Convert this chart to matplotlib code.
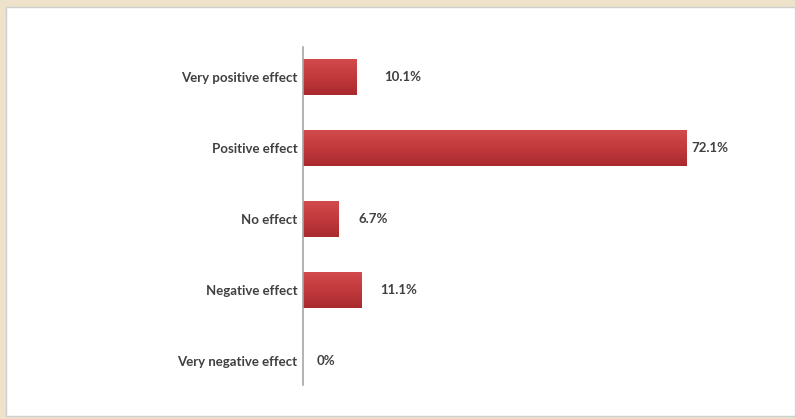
import matplotlib
matplotlib.use("Agg")
import matplotlib.pyplot as plt
import numpy as np
from matplotlib.patches import Rectangle
from matplotlib.colors import LinearSegmentedColormap

categories = ["Very positive effect", "Positive effect", "No effect",
              "Negative effect", "Very negative effect"]
values = [10.1, 72.1, 6.7, 11.1, 0.0]
value_labels = ["10.1%", "72.1%", "6.7%", "11.1%", "0%"]
# horizontal gap (points) between bar end and its label
label_gap = [20, 4, 14, 13, 10]

plt.rcParams["font.family"] = ["Lato", "DejaVu Sans"]

fig = plt.figure(figsize=(7.95, 4.19), dpi=100)
fig.patch.set_facecolor("#eee2ca")

# white card on the beige background
card = Rectangle((6 / 795, 3 / 419), 789 / 795, 409 / 419,
                 transform=fig.transFigure, facecolor="white",
                 edgecolor="#cfcfcf", linewidth=1.0, zorder=-10)
fig.patches.append(card)

ax = fig.add_axes([303 / 795, 34 / 419, 425 / 795, 338 / 419])
ax.set_facecolor("none")

y = np.arange(len(categories))
bars = ax.barh(y, values, height=0.51, color="#c43b3d", edgecolor="none")

# vertical shading on each bar
cmap = LinearSegmentedColormap.from_list("bar", ["#d44b4c", "#c23a3c", "#a92a2e"])
grad = np.linspace(0, 1, 64).reshape(-1, 1)
for b in bars:
    w = b.get_width()
    if w <= 0:
        continue
    x0, y0 = b.get_x(), b.get_y()
    h = b.get_height()
    im = ax.imshow(grad, cmap=cmap, aspect="auto",
                   extent=(x0, x0 + w, y0 + h, y0), zorder=2)
    im.set_clip_path(b)
    b.set_alpha(0)

for yi, v, lab, gap in zip(y, values, value_labels, label_gap):
    ax.annotate(lab, (v, yi), xytext=(gap, 0), textcoords="offset points",
                ha="left", va="center", fontsize=9.5, fontweight="bold",
                color="#404040")

ax.set_xlim(0, 80)
ax.set_ylim(4.34, -0.42)
ax.set_yticks(y)
ax.set_yticklabels(categories, fontsize=9.5, fontweight="bold", color="#404040")
ax.tick_params(axis="y", length=0, pad=4)
ax.set_xticks([])
for s in ["top", "right", "bottom"]:
    ax.spines[s].set_visible(False)
ax.spines["left"].set_color("#a6a6a6")
ax.spines["left"].set_linewidth(1.2)

fig.savefig("out.png", dpi=100, facecolor=fig.get_facecolor())
